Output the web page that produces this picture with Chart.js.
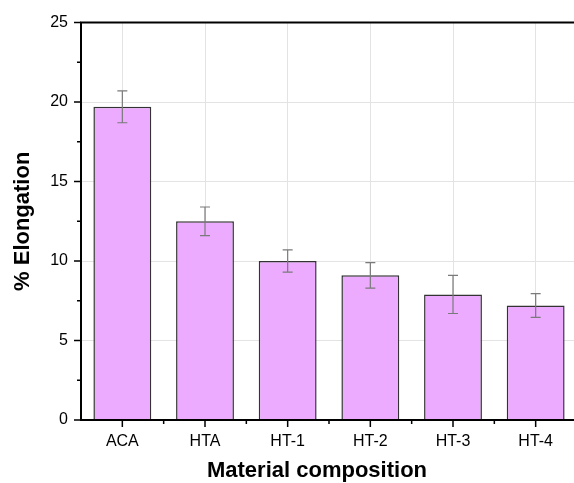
<!DOCTYPE html>
<html>
<head>
<meta charset="utf-8">
<script src="https://cdn.jsdelivr.net/npm/chart.js@4/dist/chart.umd.min.js"></script>
<style>
  html, body { margin: 0; padding: 0; background: #fff; }
  #wrap { width: 574px; height: 483px; overflow: hidden; position: relative; }
  canvas { display: block; }
</style>
</head>
<body>
<div id="wrap"><canvas id="chart" width="600" height="483"></canvas></div>
<script>
// data
const categories = ['ACA', 'HTA', 'HT-1', 'HT-2', 'HT-3', 'HT-4'];
const elongation = [19.7, 12.5, 10.0, 9.1, 7.9, 7.2];
const elongationErr = [1.0, 0.9, 0.7, 0.8, 1.2, 0.75];
const yTicks = [0, 5, 10, 15, 20, 25];
const yMinorTicks = [2.5, 7.5, 12.5, 17.5, 22.5];

const FONT = 'Arial, "Liberation Sans", sans-serif';

// error bars, frame, tick marks and axis titles
const decorations = {
  id: 'decorations',
  afterDatasetsDraw(chart) {
    const ctx = chart.ctx;
    const x = chart.scales.x, y = chart.scales.y;
    ctx.save();
    ctx.strokeStyle = '#7a7a7a';
    ctx.lineWidth = 1.2;
    elongation.forEach((v, i) => {
      const cx = x.getPixelForValue(i);
      const top = y.getPixelForValue(v + elongationErr[i]);
      const bot = y.getPixelForValue(v - elongationErr[i]);
      ctx.beginPath();
      ctx.moveTo(cx, top); ctx.lineTo(cx, bot);
      ctx.moveTo(cx - 5, top); ctx.lineTo(cx + 5, top);
      ctx.moveTo(cx - 5, bot); ctx.lineTo(cx + 5, bot);
      ctx.stroke();
    });
    ctx.restore();
  },
  afterDraw(chart) {
    const ctx = chart.ctx;
    const a = chart.chartArea;
    const x = chart.scales.x, y = chart.scales.y;
    ctx.save();
    ctx.strokeStyle = '#000';
    ctx.lineWidth = 2;
    // top, left and bottom edges (right edge falls outside the picture)
    ctx.beginPath();
    ctx.moveTo(a.right + 10, a.top);
    ctx.lineTo(a.left, a.top);
    ctx.lineTo(a.left, a.bottom);
    ctx.lineTo(a.right + 10, a.bottom);
    ctx.stroke();

    ctx.lineWidth = 1.5;
    ctx.beginPath();
    yTicks.forEach(t => {
      const py = y.getPixelForValue(t);
      ctx.moveTo(a.left - 7, py); ctx.lineTo(a.left, py);
    });
    yMinorTicks.forEach(t => {
      const py = y.getPixelForValue(t);
      ctx.moveTo(a.left - 4, py); ctx.lineTo(a.left, py);
    });
    categories.forEach((c, i) => {
      const px = x.getPixelForValue(i);
      ctx.moveTo(px, a.bottom); ctx.lineTo(px, a.bottom + 7);
      const bx = x.getPixelForValue(i + 0.5);
      ctx.moveTo(bx, a.bottom); ctx.lineTo(bx, a.bottom + 4);
    });
    ctx.stroke();

    // axis titles
    ctx.fillStyle = '#000';
    ctx.font = 'bold 22px ' + FONT;
    ctx.textAlign = 'center';
    ctx.textBaseline = 'alphabetic';
    ctx.fillText('Material composition', 317, 477);
    ctx.translate(29, (a.top + a.bottom) / 2);
    ctx.rotate(-Math.PI / 2);
    ctx.fillText('% Elongation', 0, 0);
    ctx.restore();
  }
};

new Chart(document.getElementById('chart'), {
  type: 'bar',
  data: {
    labels: categories,
    datasets: [{
      label: '% Elongation',
      data: elongation,
      backgroundColor: 'rgb(236, 171, 255)',
      borderColor: '#333333',
      borderWidth: 1.5,
      barPercentage: 0.7,
      categoryPercentage: 1.0
    }]
  },
  options: {
    responsive: false,
    animation: false,
    layout: { padding: { left: 0, top: 20, right: 23, bottom: 0 } },
    plugins: {
      legend: { display: false },
      tooltip: { enabled: false }
    },
    scales: {
      x: {
        offset: true,
        afterFit(scale) { scale.height = 63; },
        grid: { offset: false, color: '#e3e3e3', drawTicks: false },
        border: { display: false },
        ticks: { color: '#000', padding: 12, font: { family: FONT, size: 16 } }
      },
      y: {
        min: 0,
        max: 25,
        afterFit(scale) { scale.width = 81; },
        afterBuildTicks(scale) { scale.ticks = yTicks.map(v => ({ value: v })); },
        grid: { color: '#e3e3e3', drawTicks: false },
        border: { display: false },
        ticks: { color: '#000', padding: 13, font: { family: FONT, size: 16 } }
      }
    }
  },
  plugins: [decorations]
});
</script>
</body>
</html>
